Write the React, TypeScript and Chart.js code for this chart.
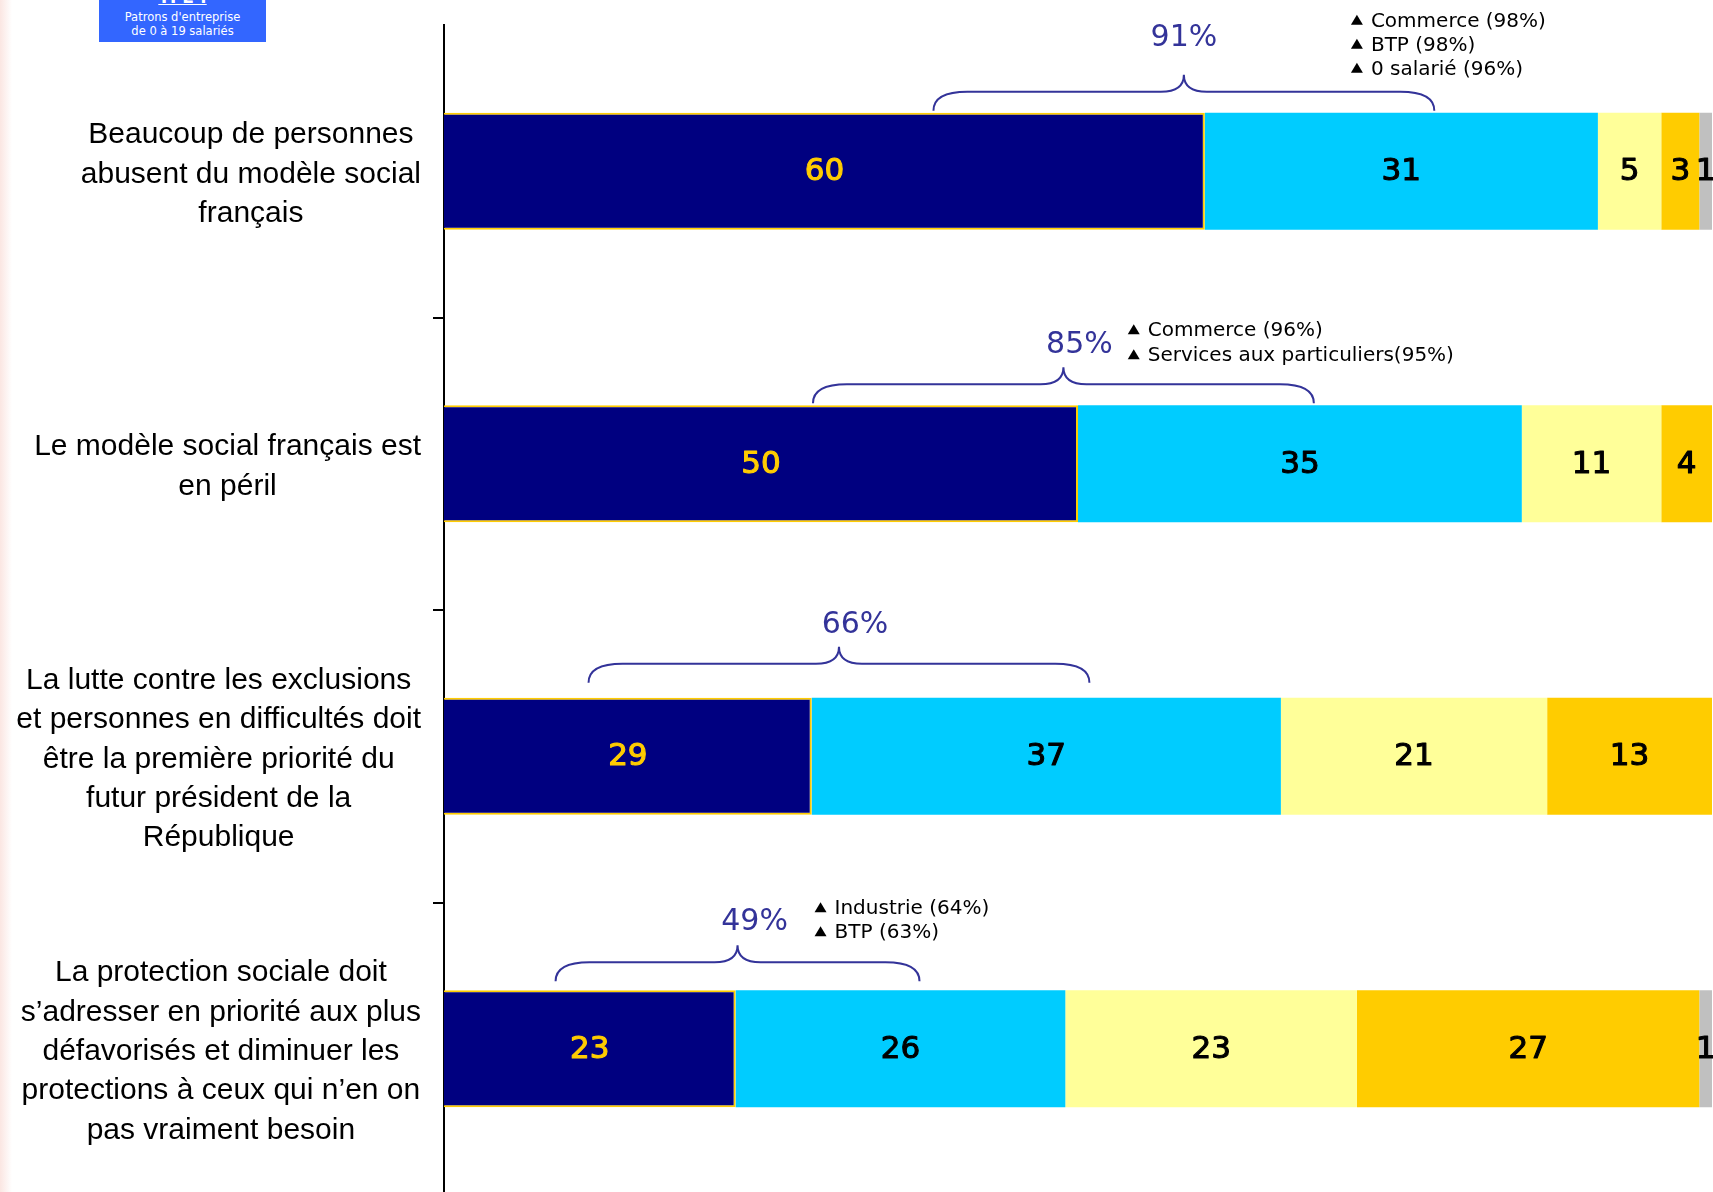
import React, { useEffect, useRef } from "react";
import { Chart, registerables } from "chart.js";

Chart.register(...registerables);

// ---------- DATA ----------
const categories: string[][] = [
  ["Beaucoup de personnes", "abusent du modèle social", "français"],
  ["Le modèle social français est", "en péril"],
  [
    "La lutte contre les exclusions",
    "et personnes en difficultés doit",
    "être la première priorité du",
    "futur président de la",
    "République",
  ],
  [
    "La protection sociale doit",
    "s’adresser en priorité aux plus",
    "défavorisés et diminuer les",
    "protections à ceux qui n’en on",
    "pas vraiment besoin",
  ],
];

const seriesNames = [
  "Tout à fait d'accord",
  "Plutôt d'accord",
  "Plutôt pas d'accord",
  "Pas du tout d'accord",
  "Ne se prononce pas",
];

const toutAFait = [60, 50, 29, 23];
const plutot = [31, 35, 37, 26];
const plutotPas = [5, 11, 21, 23];
const pasDuTout = [3, 4, 13, 27];
const nsp = [1, 0, 0, 1];

const totals = ["91%", "85%", "66%", "49%"];

const notes: string[][] = [
  ["Commerce (98%)", "BTP (98%)", "0 salarié (96%)"],
  ["Commerce (96%)", "Services aux particuliers(95%)"],
  [],
  ["Industrie (64%)", "BTP (63%)"],
];

// ---------- STYLE / LAYOUT ----------
const colors = ["#000080", "#00CCFF", "#FFFF99", "#FFCC00", "#C0C0C0"];
const labelColors = ["#FFCC00", "#000", "#000", "#000", "#000"];

// brace annotations (x in value units, offsets in px)
const braceLayout = [
  { from: 38.6, to: 78.1, gap: 2, dx: 0, dy: 37 },
  { from: 29.1, to: 68.6, gap: 2, dx: 16, dy: 22 },
  { from: 11.4, to: 50.9, gap: 15, dx: 16, dy: 22 },
  { from: 8.8, to: 37.5, gap: 9, dx: 17, dy: 23 },
];
const noteLayout = [
  { x: 73.1, dy: -92, step: 24 },
  { x: 55.5, dy: -75, step: 25 },
  { x: 0, dy: 0, step: 24 },
  { x: 30.8, dy: -82, step: 24 },
];

const LABEL_RIGHT = 421;

const annotPlugin = {
  id: "annot",
  afterDatasetsDraw(chart: any) {
    const ctx = chart.ctx as CanvasRenderingContext2D;
    ctx.save();
    ctx.textAlign = "center";
    ctx.textBaseline = "middle";
    ctx.font = "31px 'DejaVu Sans'";
    ctx.lineWidth = 1.1;
    ctx.lineJoin = "round";
    chart.data.datasets.forEach((ds: any, di: number) => {
      const meta = chart.getDatasetMeta(di);
      meta.data.forEach((bar: any, i: number) => {
        const v = ds.data[i];
        if (!v) return;
        const p = bar.getProps(["x", "y", "base"], true);
        ctx.fillStyle = labelColors[di];
        ctx.strokeStyle = labelColors[di];
        const cx = (p.x + p.base) / 2;
        ctx.fillText(String(v), cx, p.y + 1);
        ctx.strokeText(String(v), cx, p.y + 1);
      });
    });
    ctx.restore();
  },
  afterDraw(chart: any) {
    const ctx = chart.ctx as CanvasRenderingContext2D;
    const xs = chart.scales.x;
    const ys = chart.scales.y;
    const meta0 = chart.getDatasetMeta(0);
    ctx.save();

    // category labels (lines centered, block right-aligned)
    ctx.font = "30px 'Liberation Sans'";
    ctx.fillStyle = "#000";
    ctx.textAlign = "center";
    ctx.textBaseline = "middle";
    const lh = 39.3;
    categories.forEach((lines, i) => {
      const yc = ys.getPixelForTick(i) + 3;
      const maxW = Math.max(...lines.map((l) => ctx.measureText(l).width));
      const cx = LABEL_RIGHT - maxW / 2;
      const y0 = yc - ((lines.length - 1) * lh) / 2;
      lines.forEach((l, k) => ctx.fillText(l, cx, y0 + k * lh));
    });

    // braces + totals
    braceLayout.forEach((b, i) => {
      const bar = meta0.data[i];
      const top = bar.y - bar.height / 2;
      const x1 = xs.getPixelForValue(b.from);
      const x2 = xs.getPixelForValue(b.to);
      const xm = (x1 + x2) / 2;
      const yEnd = top - b.gap;
      const yLine = yEnd - 19;
      const yTip = yLine - 17;
      const r = 34;
      const rt = 23;
      ctx.strokeStyle = "#333399";
      ctx.lineWidth = 2;
      ctx.beginPath();
      ctx.moveTo(x1, yEnd);
      ctx.quadraticCurveTo(x1, yLine, x1 + r, yLine);
      ctx.lineTo(xm - rt, yLine);
      ctx.quadraticCurveTo(xm, yLine, xm, yTip);
      ctx.quadraticCurveTo(xm, yLine, xm + rt, yLine);
      ctx.lineTo(x2 - r, yLine);
      ctx.quadraticCurveTo(x2, yLine, x2, yEnd);
      ctx.stroke();

      ctx.fillStyle = "#333399";
      ctx.font = "30px 'DejaVu Sans'";
      ctx.textAlign = "center";
      ctx.fillText(totals[i], xm + b.dx, yTip - b.dy);
    });

    // notes with triangles
    ctx.font = "20px 'DejaVu Sans'";
    ctx.textAlign = "left";
    ctx.fillStyle = "#000";
    notes.forEach((lines, i) => {
      if (!lines.length) return;
      const nl = noteLayout[i];
      const bar = meta0.data[i];
      const top = bar.y - bar.height / 2;
      const xt = xs.getPixelForValue(nl.x);
      lines.forEach((l, k) => {
        const yl = top + nl.dy + k * nl.step;
        ctx.beginPath();
        const cx = xt - 14;
        ctx.moveTo(cx - 6, yl + 4);
        ctx.lineTo(cx + 6, yl + 4);
        ctx.lineTo(cx, yl - 6);
        ctx.closePath();
        ctx.fill();
        ctx.fillText(l, xt, yl + 1);
      });
    });
    ctx.restore();
  },
};

export default function App() {
  const ref = useRef<HTMLCanvasElement | null>(null);

  useEffect(() => {
    if (!ref.current) return;
    const seriesValues = [toutAFait, plutot, plutotPas, pasDuTout, nsp];
    const chart = new Chart(ref.current, {
      type: "bar",
      data: {
        labels: categories.map((c) => c.join(" ")),
        datasets: seriesValues.map((vals, i) => ({
          label: seriesNames[i],
          data: vals,
          backgroundColor: colors[i],
          borderColor: i === 0 ? "#FFCC00" : colors[i],
          borderWidth: i === 0 ? 2 : 0,
          borderSkipped: "start",
          barPercentage: 0.4,
          categoryPercentage: 1,
        })),
      },
      options: {
        indexAxis: "y",
        animation: false,
        responsive: false,
        maintainAspectRatio: false,
        devicePixelRatio: 1,
        layout: { padding: { top: 25, right: 1, bottom: 0, left: 0 } },
        plugins: {
          legend: { display: false },
          tooltip: { enabled: false },
        },
        scales: {
          x: {
            stacked: true,
            min: 0,
            max: 100,
            display: false,
          },
          y: {
            type: "category",
            stacked: true,
            offset: true,
            ticks: { display: false },
            grid: {
              offset: true,
              drawOnChartArea: false,
              drawTicks: true,
              tickLength: 11,
              lineWidth: 2,
              color: (c: any) => (c.index === 0 ? "rgba(0,0,0,0)" : "#000"),
            },
            border: { display: true, color: "#000", width: 2 },
            afterFit: (scale: any) => {
              scale.width = 444;
            },
          },
        },
      } as any,
      plugins: [annotPlugin],
    });
    return () => chart.destroy();
  }, []);

  return (
    <div
      style={{
        position: "absolute",
        left: 0,
        top: 0,
        width: 1713,
        height: 1192,
        background: "#fff",
        overflow: "hidden",
      }}
    >
      <canvas
        ref={ref}
        width={1713}
        height={1195}
        style={{ display: "block", position: "absolute", left: 0, top: 0 }}
      />
      <div
        style={{
          position: "absolute",
          left: 0,
          top: 0,
          width: 12,
          height: 1192,
          background: "linear-gradient(to right, #FBE6E2, #ffffff)",
        }}
      />
      <div
        style={{
          position: "absolute",
          left: 99,
          top: 0,
          width: 167,
          height: 42,
          background: "#3366FF",
          color: "#fff",
          fontFamily: "'DejaVu Sans', sans-serif",
          textAlign: "center",
          overflow: "hidden",
        }}
      >
        <div
          style={{
            position: "absolute",
            left: 0,
            right: 0,
            top: -12,
            fontSize: 17,
            fontWeight: "bold",
            lineHeight: "18px",
            textDecoration: "underline",
          }}
        >
          TPE :
        </div>
        <div
          style={{
            position: "absolute",
            left: 0,
            right: 0,
            top: 10,
            fontSize: 11.5,
            lineHeight: "14px",
          }}
        >
          Patrons d'entreprise
          <br />
          de 0 à 19 salariés
        </div>
      </div>
    </div>
  );
}
